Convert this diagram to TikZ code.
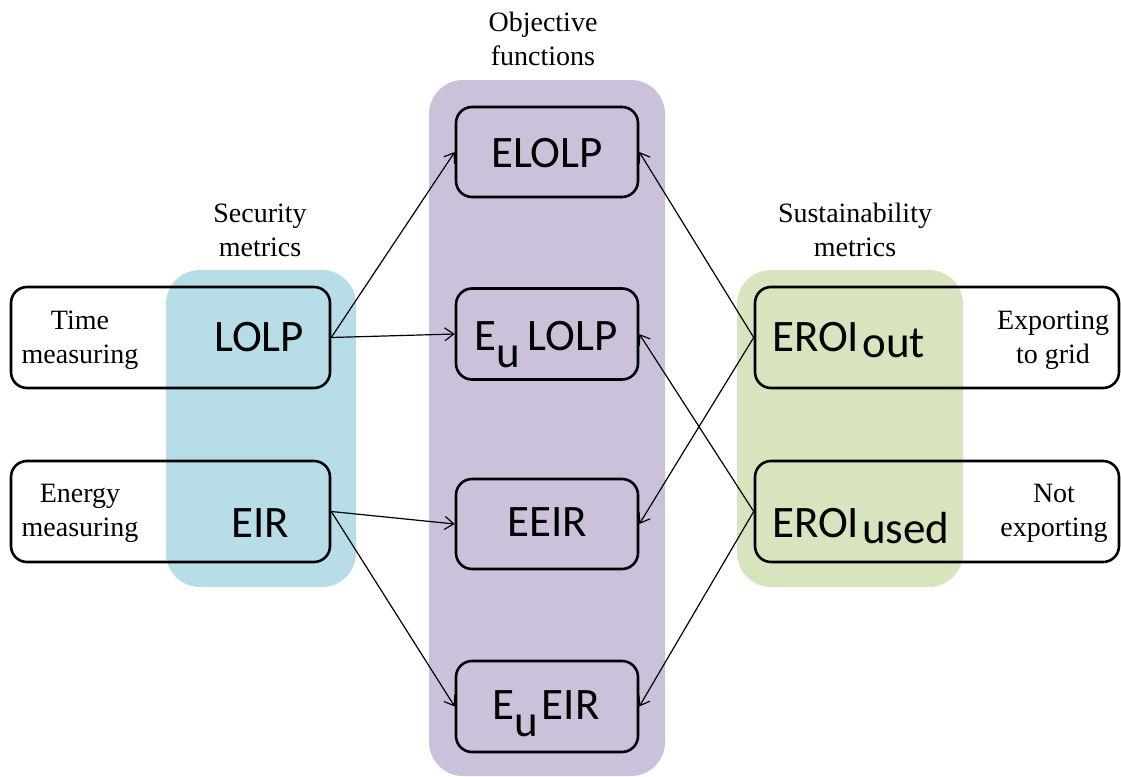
\documentclass[tikz,border=0pt]{standalone}
\usepackage{fontspec}
\setmainfont{Liberation Serif}
\newfontfamily\calfont{Carlito}
\usetikzlibrary{arrows.meta}
\definecolor{bgblue}{HTML}{B7DDE8}
\definecolor{bgpurple}{HTML}{CCC1DA}
\definecolor{bggreen}{HTML}{D7E4BD}
\begin{document}
\begin{tikzpicture}[x=1pt,y=-1pt,
  bgarea/.style={rounded corners=34pt},
  mbox/.style={draw,line width=2.6pt,rounded corners=16pt,inner sep=0pt},
  lbl/.style={font=\fontsize{28}{34}\selectfont,align=center,inner sep=0pt},
  mtxt/.style={font=\calfont\fontsize{45}{50}\selectfont,anchor=base,inner sep=0pt},
  con/.style={line width=1.2pt,-{Straight Barb[length=9pt,width=13pt]}}]
\useasboundingbox (0,0) rectangle (1121,776);
% background areas
\fill[bgpurple,bgarea] (429,80) rectangle (665,776);
\fill[bgblue,bgarea] (166,270) rectangle (356,587);
\fill[bggreen,bgarea] (737,270) rectangle (963,587);
% group titles
\node[lbl] (tobj) at (543,39) {Objective\\functions};
\node[lbl] (tsec) at (260,230) {Security\\metrics};
\node[lbl] (tsus) at (855,230) {Sustainability\\metrics};
% middle boxes
\node[mbox,minimum width=182pt,minimum height=90pt] (elolp) at (547,152) {};
\node[mbox,minimum width=182pt,minimum height=91pt] (eulolp) at (547,334) {};
\node[mbox,minimum width=182pt,minimum height=90pt] (eeir) at (547,524) {};
\node[mbox,minimum width=182pt,minimum height=91pt] (eueir) at (547,706.5) {};
% left boxes
\node[mbox,minimum width=319pt,minimum height=101pt] (lolp) at (170.5,337.5) {};
\node[mbox,minimum width=319pt,minimum height=101pt] (eir) at (170.5,511.5) {};
% right boxes
\node[mbox,minimum width=364pt,minimum height=101pt] (eroiout) at (937,337.5) {};
\node[mbox,minimum width=364pt,minimum height=101pt] (eroiused) at (937,511.5) {};
% texts in middle boxes
\node[mtxt] (telolp) at (547,167) {ELOLP};
\node[mtxt] (teulolp) at (546,350) {E\raisebox{-17pt}{u}\hspace{7pt}LOLP};
\node[mtxt] (teeir) at (547,536) {EEIR};
\node[mtxt] (teueir) at (546,719) {E\raisebox{-17pt}{u}\hspace{4pt}EIR};
% texts in left boxes
\node[mtxt] (tlolp) at (259,351) {LOLP};
\node[mtxt] (teir) at (260,537) {EIR};
\node[lbl] (ttime) at (80,340) {Time\\measuring};
\node[lbl] (tenergy) at (80,513) {Energy\\measuring};
% texts in right boxes
\node[mtxt,anchor=base west] (teroiout) at (772,351) {EROI\hspace{3pt}\raisebox{-6pt}{out}};
\node[mtxt,anchor=base west] (teroiused) at (772,537) {EROI\hspace{3pt}\raisebox{-6pt}{used}};
\node[lbl] (texp) at (1053,340) {Exporting\\to grid};
\node[lbl] (tnot) at (1054,513) {Not\\exporting};
% connectors
\draw[con] (lolp.east) -- (elolp.west);
\draw[con] (lolp.east) -- (eulolp.west);
\draw[con] (eir.east) -- (eeir.west);
\draw[con] (eir.east) -- (eueir.west);
\draw[con] (eroiout.west) -- (elolp.east);
\draw[con] (eroiout.west) -- (eeir.east);
\draw[con] (eroiused.west) -- (eulolp.east);
\draw[con] (eroiused.west) -- (eueir.east);
\end{tikzpicture}
\end{document}
